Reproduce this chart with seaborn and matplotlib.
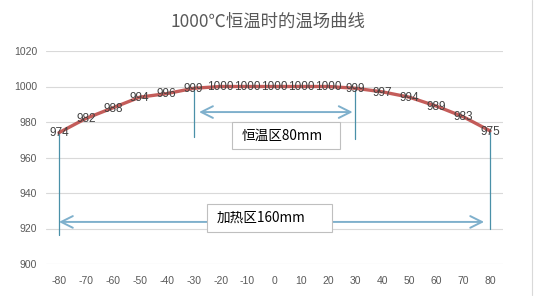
import matplotlib
matplotlib.use("Agg")
import matplotlib.pyplot as plt
import seaborn as sns
import pandas as pd
from matplotlib.lines import Line2D
from matplotlib.patches import Rectangle

positions = [-80, -70, -60, -50, -40, -30, -20, -10, 0, 10, 20, 30, 40, 50, 60, 70, 80]
temperatures = [974, 982, 988, 994, 996, 999, 1000, 1000, 1000, 1000, 1000, 999, 997, 994, 989, 983, 975]
y_ticks = [900, 920, 940, 960, 980, 1000, 1020]
title_text = "1000℃恒温时的温场曲线"
const_zone_label = "恒温区80mm"
heat_zone_label = "加热区160mm"

sns.set_theme(style="white")
plt.rcParams['font.family'] = ['Noto Sans CJK SC', 'DejaVu Sans']

df = pd.DataFrame({"pos": positions, "temp": temperatures})

fig = plt.figure(figsize=(5.36, 3.01), dpi=100)
ax = fig.add_axes([45.5/536, 1-264/301, (503.5-45.5)/536, (264-51)/301])

for v in y_ticks:
    ax.axhline(v, color="#D9D9D9", lw=0.8, zorder=0)

sns.lineplot(data=df, x="pos", y="temp", ax=ax, color="#BE4B48", lw=2.4, zorder=3, alpha=0.9)

for x, y in zip(positions, temperatures):
    ax.text(x, y - 0.4, str(y), ha="center", va="center", fontsize=8.5, color="#404040",
            family=["Liberation Sans"], zorder=4)

ax.set_xlim(-85, 85)
ax.set_ylim(900, 1020)
ax.set_xticks(positions)
ax.set_xticklabels([str(p) for p in positions], family=["Liberation Sans"], fontsize=7.5, color="#595959")
ax.set_yticks(y_ticks)
ax.set_yticklabels([str(v) for v in y_ticks], family=["Liberation Sans"], fontsize=7.5, color="#595959")
ax.tick_params(axis="x", length=0, pad=9)
ax.tick_params(axis="y", length=0, pad=6)
ax.set_xlabel("")
ax.set_ylabel("")
for s in ax.spines.values():
    s.set_visible(False)

vcol = "#4A90A8"
ax.plot([-30, -30], [999, 971.5], color=vcol, lw=0.9, zorder=2)
ax.plot([30, 30], [999, 970.4], color=vcol, lw=0.9, zorder=2)
ax.plot([-80, -80], [974, 916.3], color=vcol, lw=0.9, zorder=2)
ax.plot([80, 80], [975, 919.7], color=vcol, lw=0.9, zorder=2)

acol = "#7FB0CC"
ax.annotate("", xy=(-28, 985.6), xytext=(29, 985.6),
            arrowprops=dict(arrowstyle="<->,head_length=0.7,head_width=0.35", color=acol, lw=1.4, shrinkA=0, shrinkB=0), zorder=2)
ax.annotate("", xy=(-80, 923.7), xytext=(77.8, 923.7),
            arrowprops=dict(arrowstyle="<->,head_length=0.7,head_width=0.35", color=acol, lw=1.4, shrinkA=0, shrinkB=0), zorder=2)

ax.add_patch(Rectangle((-15.8, 964.8), 40.1, 15.2, facecolor="white", edgecolor="#BFBFBF", lw=0.8, zorder=5))
ax.text(-12.2, 972.2, const_zone_label, ha="left", va="center", fontsize=9.8, color="#000000", zorder=6)
ax.add_patch(Rectangle((-25.2, 918.0), 46.4, 15.8, facecolor="white", edgecolor="#BFBFBF", lw=0.8, zorder=5))
ax.text(-21.5, 926.0, heat_zone_label, ha="left", va="center", fontsize=9.8, color="#000000", zorder=6)

fig.text(268/536, 1-22/301, title_text, ha="center", va="center", fontsize=12.5, color="#595959")

fig.add_artist(Line2D([532/536, 532/536], [0.02, 1.0], color="#D9D9D9", lw=0.8))

fig.savefig("out.png", dpi=100)
